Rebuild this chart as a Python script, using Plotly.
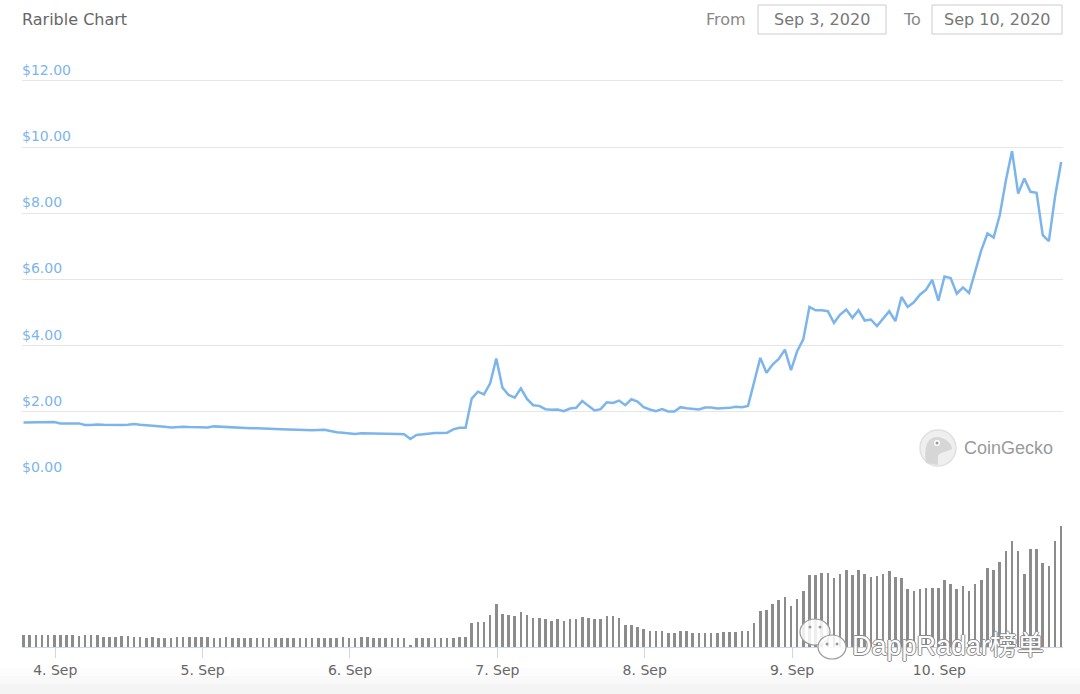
import pandas as pd
import plotly.graph_objects as go

W, H = 1080, 694

# ---------------- data ----------------
start_time = "2020-09-03 18:50"

price = [
    1.68, 1.68, 1.68, 1.69, 1.70, 1.69, 1.65, 1.66, 1.65, 1.65,
    1.60, 1.60, 1.62, 1.61, 1.60, 1.59, 1.60, 1.61, 1.63, 1.61,
    1.60, 1.58, 1.57, 1.55, 1.53, 1.55, 1.55, 1.54, 1.54, 1.54,
    1.53, 1.56, 1.55, 1.52, 1.52, 1.51, 1.51, 1.50, 1.50, 1.50,
    1.49, 1.48, 1.47, 1.46, 1.46, 1.45, 1.44, 1.44, 1.45, 1.46,
    1.42, 1.38, 1.37, 1.34, 1.33, 1.35, 1.35,
    1.35, 1.35, 1.34, 1.34, 1.33, 1.32, 1.18, 1.30, 1.32, 1.35,
    1.36, 1.36, 1.37, 1.47, 1.52, 1.52, 2.40, 2.61, 2.53, 2.86,
    3.61, 2.73, 2.51, 2.43, 2.71, 2.39, 2.20, 2.18, 2.08, 2.06,
    2.07, 2.02, 2.10, 2.12, 2.33, 2.18, 2.04, 2.08, 2.29, 2.27,
    2.34, 2.20, 2.38, 2.31, 2.14, 2.07, 2.02, 2.08, 2.01, 2.01,
    2.14, 2.11, 2.10, 2.07, 2.13, 2.13, 2.10, 2.10, 2.12, 2.15,
    2.14, 2.18,
    2.88, 3.63, 3.18, 3.43, 3.60, 3.88, 3.26, 3.83, 4.19, 5.17,
    5.07, 5.07, 5.04, 4.69, 4.94, 5.09, 4.84, 5.07, 4.76, 4.79,
    4.59, 4.81, 5.04, 4.74, 5.47, 5.17, 5.31, 5.54, 5.69, 5.99,
    5.36, 6.09, 6.04, 5.57, 5.76, 5.59, 6.24, 6.89, 7.39, 7.27,
    7.94, 9.00, 9.88, 8.60, 9.05, 8.65, 8.62, 7.34, 7.16, 8.50,
    9.55,
]

volume = [
    11.7, 11.7, 11.7, 11.7, 11.7, 11.7, 11.7, 11.7, 11.7, 10.7,
    11.7, 11.7, 11.7, 10.0, 10.0, 10.0, 10.7, 10.7, 9.7, 10.0,
    9.0, 9.7, 9.0, 9.0, 9.0, 9.7, 9.7, 9.7, 9.7, 9.7,
    9.7, 9.0, 9.0, 9.7, 9.0, 9.0, 9.0, 9.0, 9.0, 9.0,
    9.0, 9.0, 9.0, 9.0, 9.0, 9.0, 9.0, 9.0, 9.0, 9.0,
    9.0, 9.0, 9.7, 9.0, 9.0, 9.7, 9.7,
    9.0, 9.0, 9.0, 9.0, 9.0, 9.0, 2.3, 9.0, 9.0, 9.0,
    9.0, 9.0, 9.0, 9.0, 10.0, 10.0, 23.7, 25.0, 25.0, 31.7,
    43.0, 33.0, 32.0, 30.7, 34.7, 31.7, 29.0, 29.0, 28.0, 26.3,
    28.0, 26.3, 28.0, 28.0, 30.3, 29.0, 28.0, 28.0, 30.7, 30.7,
    29.0, 22.0, 22.0, 19.7, 18.3, 15.7, 15.7, 15.7, 14.0, 14.0,
    15.7, 15.7, 14.0, 14.0, 14.0, 14.0, 14.0,
    15.0, 15.0, 15.0, 15.7, 15.7, 24.0, 36.3, 37.3, 43.0, 47.0,
    49.7, 40.7, 48.3, 56.3, 71.7, 71.7, 74.3, 74.3, 69.0, 73.0,
    77.0, 71.7, 77.0, 73.0, 69.7, 70.7, 73.0, 75.7, 70.3, 69.0,
    58.0, 56.3, 58.3, 59.0, 59.0, 59.0, 67.3, 63.3, 58.3, 60.7,
    56.3, 63.0, 67.3, 79.0, 77.3, 85.0, 96.3, 105.7, 96.3, 73.0,
    97.7, 97.7, 84.0, 81.3, 105.7, 120.7,
]

price_ticks = [0, 2, 4, 6, 8, 10, 12]
price_tick_labels = ["$0.00", "$2.00", "$4.00", "$6.00", "$8.00", "$10.00", "$12.00"]
day_ticks = ["2020-09-04", "2020-09-05", "2020-09-06", "2020-09-07",
             "2020-09-08", "2020-09-09", "2020-09-10"]
day_labels = ["4. Sep", "5. Sep", "6. Sep", "7. Sep", "8. Sep", "9. Sep", "10. Sep"]

title_text = "Rarible Chart"
range_from = "Sep 3, 2020"
range_to = "Sep 10, 2020"

n = min(len(price), len(volume))
price = price[:n]
volume = volume[:n]
times = pd.date_range(start_time, periods=n, freq="h")


# ---------------- helpers ----------------
def fx(px):
    return px / W


def fy(py):
    return 1 - py / H


x_left, x_right = 22, 1063
hour = pd.Timedelta(hours=1)
x_range = [times[0] - 0.25 * hour, times[-1] + 0.3 * hour]

fig = go.Figure()
fig.add_trace(go.Scatter(
    x=times, y=price, mode="lines",
    line=dict(color="#7cb5ec", width=2.5),
    xaxis="x", yaxis="y", hoverinfo="skip", showlegend=False,
))
fig.add_trace(go.Bar(
    x=times, y=volume, marker=dict(color="#8c8c8c", line=dict(width=0)),
    width=0.42 * 3600 * 1000,
    xaxis="x", yaxis="y2", hoverinfo="skip", showlegend=False,
))

fig.update_layout(
    width=W, height=H,
    margin=dict(l=0, r=0, t=0, b=0),
    paper_bgcolor="white", plot_bgcolor="rgba(0,0,0,0)",
    showlegend=False,
    bargap=0,
    xaxis=dict(
        domain=[fx(x_left), fx(x_right)],
        anchor="y2",
        range=x_range,
        type="date",
        tickvals=day_ticks, ticktext=day_labels,
        showgrid=False, zeroline=False,
        showline=True, linecolor="#ccd6eb", linewidth=1,
        ticks="outside", ticklen=10, tickcolor="#ccd6eb", tickwidth=1,
        tickfont=dict(family="DejaVu Sans", size=14, color="#666666"),
        fixedrange=True,
    ),
    yaxis=dict(
        domain=[fy(478), fy(79.3)],
        anchor="x",
        range=[0, 12.05],
        tickvals=price_ticks,
        showticklabels=False,
        showgrid=True, gridcolor="#e6e6e6", gridwidth=1,
        zeroline=False, showline=False, ticks="",
        fixedrange=True,
    ),
    yaxis2=dict(
        domain=[fy(647), fy(525)],
        anchor="x",
        range=[0, 122],
        visible=False,
        fixedrange=True,
    ),
)

shapes = []
annotations = []

# price axis labels, sitting just above their grid lines
for v, lab in zip(price_ticks, price_tick_labels):
    annotations.append(dict(
        text=lab, xref="paper", yref="y", x=fx(20), y=v,
        xanchor="left", yanchor="bottom", yshift=1, showarrow=False,
        font=dict(family="DejaVu Sans", size=14, color="#7cb5ec"),
    ))

# bottom light-grey gradient band
grad = [(668, 676, "#fdfdfd"), (676, 684, "#f9f9f9"), (684, 694, "#f4f4f4")]
for y0, y1, c in grad:
    shapes.append(dict(type="rect", xref="paper", yref="paper",
                       x0=0, x1=1, y0=fy(y1), y1=fy(y0),
                       fillcolor=c, line=dict(width=0), layer="below"))

ui_font = "DejaVu Sans, sans-serif"

# title
annotations.append(dict(
    text=title_text, xref="paper", yref="paper", x=fx(20), y=fy(19),
    xanchor="left", yanchor="middle", showarrow=False,
    font=dict(family=ui_font, size=16, color="#666666"),
))

# range inputs
annotations.append(dict(
    text="From", xref="paper", yref="paper", x=fx(748), y=fy(19),
    xanchor="right", yanchor="middle", showarrow=False,
    font=dict(family=ui_font, size=16, color="#888888"),
))
annotations.append(dict(
    text="To", xref="paper", yref="paper", x=fx(923), y=fy(19),
    xanchor="right", yanchor="middle", showarrow=False,
    font=dict(family=ui_font, size=16, color="#888888"),
))
for (x0, x1, label) in [(758, 886, range_from), (932, 1062, range_to)]:
    shapes.append(dict(type="rect", xref="paper", yref="paper",
                       x0=fx(x0), x1=fx(x1), y0=fy(34), y1=fy(5),
                       fillcolor="white", line=dict(color="#cccccc", width=1)))
    annotations.append(dict(
        text=label, xref="paper", yref="paper", x=fx((x0 + x1) / 2), y=fy(19),
        xanchor="center", yanchor="middle", showarrow=False,
        font=dict(family=ui_font, size=16, color="#777777"),
    ))

# CoinGecko logo
cx, cy, r = 938, 448, 18
shapes.append(dict(type="circle", xref="paper", yref="paper",
                   x0=fx(cx - r), x1=fx(cx + r), y0=fy(cy + r), y1=fy(cy - r),
                   fillcolor="#efefef", line=dict(color="#e0e0e0", width=1.5)))
shapes.append(dict(type="path", xref="paper", yref="paper",
                   path=(f"M {fx(926)} {fy(463)} "
                         f"C {fx(924)} {fy(450)}, {fx(926)} {fy(438)}, {fx(936)} {fy(437)} "
                         f"C {fx(946)} {fy(437)}, {fx(952)} {fy(444)}, {fx(952)} {fy(449)} "
                         f"C {fx(946)} {fy(452)}, {fx(940)} {fy(452)}, {fx(938)} {fy(456)} "
                         f"L {fx(938)} {fy(465)} Z"),
                   fillcolor="#d6d6d6", line=dict(width=0)))
shapes.append(dict(type="circle", xref="paper", yref="paper",
                   x0=fx(934), x1=fx(940), y0=fy(446), y1=fy(440),
                   fillcolor="white", line=dict(width=0)))
shapes.append(dict(type="circle", xref="paper", yref="paper",
                   x0=fx(935.5), x1=fx(938.5), y0=fy(444.5), y1=fy(441.5),
                   fillcolor="#999999", line=dict(width=0)))
annotations.append(dict(
    text="CoinGecko", xref="paper", yref="paper", x=fx(962), y=fy(448),
    xanchor="left", yanchor="middle", showarrow=False,
    font=dict(family="Liberation Sans, Arial, sans-serif", size=18, color="#9a9a9a"),
))

# WeChat watermark
for (bx, by, brx, bry) in [(815, 632, 15, 13), (832, 647, 14, 12)]:
    shapes.append(dict(type="circle", xref="paper", yref="paper",
                       x0=fx(bx - brx), x1=fx(bx + brx), y0=fy(by + bry), y1=fy(by - bry),
                       fillcolor="rgba(255,255,255,0.85)", line=dict(color="#9a9a9a", width=1.2)))
for (ex, ey) in [(810, 627), (820, 627), (827, 644), (837, 644)]:
    shapes.append(dict(type="circle", xref="paper", yref="paper",
                       x0=fx(ex - 1.5), x1=fx(ex + 1.5), y0=fy(ey + 1.5), y1=fy(ey - 1.5),
                       fillcolor="#9a9a9a", line=dict(width=0)))
annotations.append(dict(
    text="DappRadar榜单", xref="paper", yref="paper", x=fx(850), y=fy(646),
    xanchor="left", yanchor="middle", showarrow=False,
    font=dict(family="Liberation Sans, Noto Sans CJK SC, sans-serif", size=27, color="white",
              shadow="-1px 0 #8a8a8a, 1px 0 #8a8a8a, 0 -1px #8a8a8a, 0 1px #8a8a8a"),
))

fig.update_layout(shapes=shapes, annotations=annotations)

fig.write_html(
    "out.html",
    config={"displayModeBar": False},
    post_script="document.body.style.margin='0';document.body.style.overflow='hidden';",
)
